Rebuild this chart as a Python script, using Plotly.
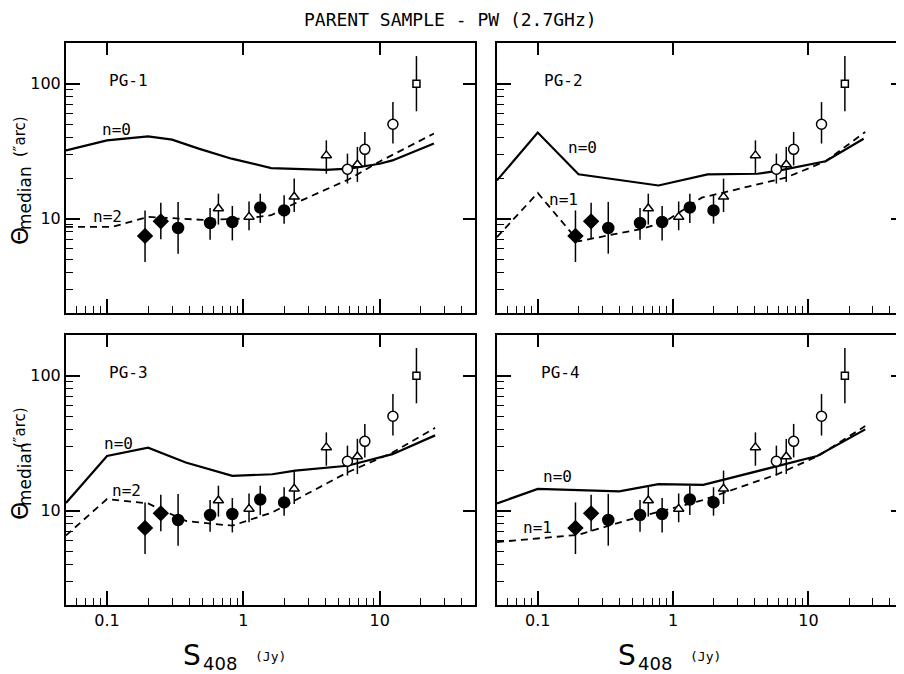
import math
import plotly.graph_objects as go

# ---------------- data ----------------
# observed medians (same in every panel)
S_filled = [0.19, 0.248, 0.332, 0.57, 0.83, 1.33, 1.99]
T_filled = [7.45, 9.55, 8.53, 9.29, 9.45, 12.1, 11.5]
Hi_filled = [11.5, 13.1, 13.3, 12.0, 12.4, 15.3, 14.9]
Lo_filled = [4.77, 7.03, 5.5, 6.99, 6.9, 9.3, 9.18]
Sym_filled = ["diamond", "diamond", "circle", "circle", "circle", "circle", "circle"]

S_tri = [0.656, 1.10, 2.36, 4.06, 6.86]
T_tri = [11.9, 10.3, 14.5, 29.4, 25.2]
Hi_tri = [15.3, 13.4, 19.8, 38.0, 34.0]
Lo_tri = [9.03, 8.2, 11.2, 21.5, 18.7]

S_circ = [5.8, 7.78, 12.5]
T_circ = [23.2, 32.6, 50.0]
Hi_circ = [30.3, 43.9, 73.0]
Lo_circ = [18.2, 24.8, 36.0]

S_sq = [18.6]
T_sq = [100.0]
Hi_sq = [160.0]
Lo_sq = [62.4]

# model curves
PG1_n0_S = [0.05, 0.1, 0.2, 0.3, 0.47, 0.82, 1.6, 4, 6, 10, 12.4, 25]
PG1_n0_T = [32, 38, 40.7, 38.5, 33, 27.8, 23.7, 23, 23.5, 25.5, 27, 36]
PG1_n2_S = [0.05, 0.11, 0.2, 0.5, 1.0, 1.6, 2.4, 5.9, 10, 25]
PG1_n2_T = [8.7, 8.7, 10.3, 9.8, 10.0, 10.6, 13.0, 19.5, 26.5, 42.7]

PG2_n0_S = [0.05, 0.1, 0.2, 0.78, 1.8, 4.2, 5.9, 13.4, 25.6]
PG2_n0_T = [19.2, 43.4, 21.3, 17.6, 21.3, 21.5, 22.6, 26.6, 39.1]
PG2_n1_S = [0.05, 0.1, 0.2, 0.59, 0.88, 1.23, 1.63, 6.8, 13.4, 26.3]
PG2_n1_T = [7.3, 15.5, 6.8, 8.4, 9.55, 11.9, 14.3, 20.1, 26.6, 43.9]

PG3_n0_S = [0.05, 0.1, 0.2, 0.378, 0.83, 1.63, 2.4, 5.8, 12.4, 25.5]
PG3_n0_T = [11.4, 25.4, 29.3, 22.7, 18.1, 18.6, 19.8, 21.5, 26.2, 36.1]
PG3_n2_S = [0.05, 0.1, 0.2, 0.378, 0.59, 0.83, 1.63, 5.8, 12.4, 25.5]
PG3_n2_T = [6.55, 12.2, 11.3, 8.4, 7.98, 7.75, 9.7, 19.2, 26.9, 41.1]

PG4_n0_S = [0.05, 0.1, 0.4, 0.78, 1.67, 5.9, 11.6, 26.3]
PG4_n0_T = [11.3, 14.5, 13.9, 15.7, 15.5, 21.5, 25.4, 40.0]
PG4_n1_S = [0.05, 0.2, 0.447, 1.63, 5.9, 11.8, 26.3]
PG4_n1_T = [5.85, 6.62, 8.44, 11.9, 18.6, 25.4, 42.3]

panel_names = ["PG-1", "PG-2", "PG-3", "PG-4"]
model_labels = [("n=0", "n=2"), ("n=0", "n=1"), ("n=0", "n=2"), ("n=0", "n=1")]
curves = [
    (PG1_n0_S, PG1_n0_T, PG1_n2_S, PG1_n2_T),
    (PG2_n0_S, PG2_n0_T, PG2_n1_S, PG2_n1_T),
    (PG3_n0_S, PG3_n0_T, PG3_n2_S, PG3_n2_T),
    (PG4_n0_S, PG4_n0_T, PG4_n1_S, PG4_n1_T),
]

x_major = [0.1, 1, 10]
x_major_text = ["0.1", "1", "10"]
x_minor = [0.06, 0.07, 0.08, 0.09, 0.2, 0.3, 0.4, 0.5, 0.6, 0.7, 0.8, 0.9,
           2, 3, 4, 5, 6, 7, 8, 9, 20, 30, 40]
y_major = [10, 100]
y_major_text = ["10", "100"]
y_minor = [3, 4, 5, 6, 7, 8, 9, 20, 30, 40, 50, 60, 70, 80, 90]

# ---------------- figure ----------------
FONT = "DejaVu Sans"
MONO = "DejaVu Sans Mono"
OFF = 8                      # page body margin
W, H = 896, 666


def px(x):
    return (x - OFF) / W


def py(y):
    return 1 - (y - OFF) / H


xdom = [[px(66), px(475)], [px(497), px(903)]]
ydom = [[py(313), py(43)], [py(605), py(335)]]
xr = [math.log10(0.05), math.log10(50)]
yr = [math.log10(2), math.log10(200)]

fig = go.Figure()


def errs(t, hi, lo):
    return [h - v for h, v in zip(hi, t)], [v - l for v, l in zip(t, lo)]


for p in range(4):
    xa = "x" if p == 0 else f"x{p+1}"
    ya = "y" if p == 0 else f"y{p+1}"
    s0, t0, s1, t1 = curves[p]
    fig.add_trace(go.Scatter(x=s0, y=t0, mode="lines", xaxis=xa, yaxis=ya,
                             line=dict(color="black", width=2.2), showlegend=False,
                             hoverinfo="skip"))
    fig.add_trace(go.Scatter(x=s1, y=t1, mode="lines", xaxis=xa, yaxis=ya,
                             line=dict(color="black", width=1.8, dash="7px,5px"),
                             showlegend=False, hoverinfo="skip"))
    for S, T, Hi, Lo, sym, fill, size in [
        (S_filled, T_filled, Hi_filled, Lo_filled, Sym_filled, "black", 11),
        (S_tri, T_tri, Hi_tri, Lo_tri, "triangle-up", "white", 9),
        (S_circ, T_circ, Hi_circ, Lo_circ, "circle", "white", 10),
        (S_sq, T_sq, Hi_sq, Lo_sq, "square", "white", 7),
    ]:
        ep, em = errs(T, Hi, Lo)
        fig.add_trace(go.Scatter(
            x=S, y=T, mode="markers", xaxis=xa, yaxis=ya, showlegend=False,
            marker=dict(symbol=sym, size=size, color=fill,
                        line=dict(color="black", width=1.5)),
            error_y=dict(type="data", symmetric=False, array=ep, arrayminus=em,
                         color="black", thickness=1.5, width=0),
        ))
    # overlay dummies for top / right ticks
    fig.add_trace(go.Scatter(x=[], y=[], xaxis=f"x{p+5}", yaxis=ya, showlegend=False))
    fig.add_trace(go.Scatter(x=[], y=[], xaxis=xa, yaxis=f"y{p+5}", showlegend=False))

layout = dict(width=W, height=H, paper_bgcolor="white", plot_bgcolor="white",
              margin=dict(l=0, r=0, t=0, b=0, autoexpand=False),
              font=dict(family=FONT, color="black"))

for p in range(4):
    col, row = p % 2, p // 2
    xk = "xaxis" if p == 0 else f"xaxis{p+1}"
    yk = "yaxis" if p == 0 else f"yaxis{p+1}"
    xa = "x" if p == 0 else f"x{p+1}"
    ya = "y" if p == 0 else f"y{p+1}"
    layout[xk] = dict(type="log", range=xr, domain=xdom[col], anchor=ya,
                      showgrid=False, zeroline=False, showline=True, linewidth=2,
                      linecolor="black", mirror=True,
                      tickmode="array", tickvals=x_major, ticktext=x_major_text,
                      ticks="inside", ticklen=14, tickwidth=1.5, tickcolor="black",
                      showticklabels=(row == 1), tickfont=dict(size=16, family=FONT),
                      minor=dict(tickmode="array", tickvals=x_minor, ticks="inside",
                                 ticklen=7, tickwidth=1.3, tickcolor="black",
                                 showgrid=False))
    layout[yk] = dict(type="log", range=yr, domain=ydom[row], anchor=xa,
                      showgrid=False, zeroline=False, showline=True, linewidth=2,
                      linecolor="black", mirror=True,
                      tickmode="array", tickvals=y_major, ticktext=y_major_text,
                      ticks="inside", ticklen=14, tickwidth=1.5, tickcolor="black",
                      showticklabels=(col == 0), tickfont=dict(size=16, family=FONT),
                      minor=dict(tickmode="array", tickvals=y_minor, ticks="inside",
                                 ticklen=7, tickwidth=1.3, tickcolor="black",
                                 showgrid=False))
    layout[f"xaxis{p+5}"] = dict(type="log", range=xr, overlaying=xa, anchor=ya,
                                 side="top", showgrid=False, zeroline=False,
                                 showline=False, tickmode="array", tickvals=x_major,
                                 ticks="inside", ticklen=12, tickwidth=1.5,
                                 tickcolor="black", showticklabels=False)
    layout[f"yaxis{p+5}"] = dict(type="log", range=yr, overlaying=ya, anchor=xa,
                                 side="right", showgrid=False, zeroline=False,
                                 showline=False, tickmode="array", tickvals=y_major,
                                 ticks="inside", ticklen=12, tickwidth=1.5,
                                 tickcolor="black", showticklabels=False)

fig.update_layout(**layout)

ann = []


def add_text(x, y, text, size, family=FONT, angle=0):
    ann.append(dict(x=px(x), y=py(y), xref="paper", yref="paper", text=text,
                    showarrow=False, xanchor="center", yanchor="middle",
                    textangle=angle, font=dict(size=size, family=family,
                                               color="black")))


# panel labels and model labels (reference pixel positions)
lab_pos = [(128, 80), (563, 80), (128, 372), (560, 372)]
n0_pos = [(116, 130), (582, 147), (118, 443), (557, 477)]
n1_pos = [(107, 217), (563, 200), (126, 490), (537, 527)]
for p in range(4):
    add_text(*lab_pos[p], panel_names[p], 16, MONO)
    add_text(*n0_pos[p], model_labels[p][0], 16, MONO)
    add_text(*n1_pos[p], model_labels[p][1], 16, MONO)

add_text(450, 19, "PARENT SAMPLE - PW (2.7GHz)", 18, MONO)

# y-axis titles (three parts, rotated)
for th_y, med_y, arc_y in [(236, 198, 137), (511, 474, 428)]:
    add_text(20, th_y, "Θ", 23, FONT, -90)
    add_text(25, med_y, "median", 17, FONT, -90)
    add_text(20, arc_y, "(″arc)", 15, FONT, -90)

# x-axis titles (three parts)
for s_x in [192, 627]:
    add_text(s_x, 655, "S", 28, FONT)
    add_text(s_x + 28, 663, "408", 18, FONT)
    add_text(s_x + 78, 656, "(Jy)", 13, MONO)

fig.update_layout(annotations=ann)
fig.write_html("out.html")
